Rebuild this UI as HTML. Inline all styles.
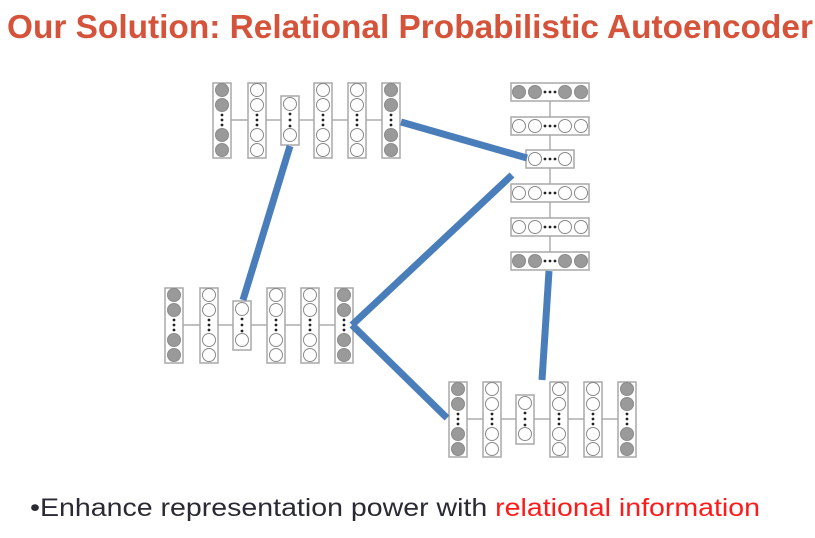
<!DOCTYPE html>
<html><head><meta charset="utf-8"><style>
html,body{margin:0;padding:0;background:#fff;width:815px;height:538px;overflow:hidden}
</style></head><body>
<svg id="s" width="815" height="538" xmlns="http://www.w3.org/2000/svg">
<text x="7" y="38" font-family="Liberation Sans, sans-serif" font-weight="bold" font-size="33" fill="#d5533a" textLength="806" lengthAdjust="spacingAndGlyphs">Our Solution: Relational Probabilistic Autoencoder</text>
<text x="30" y="516" font-family="Liberation Sans, sans-serif" font-size="25" fill="#2a2a35" textLength="730" lengthAdjust="spacingAndGlyphs">•Enhance representation power with <tspan fill="#ff1a1a">relational information</tspan></text>
<g id="g"></g>
</svg>
<script>
const g=document.getElementById('g');const NS='http://www.w3.org/2000/svg';
function el(t,a){const e=document.createElementNS(NS,t);for(const k in a)e.setAttribute(k,a[k]);g.appendChild(e);return e;}
const gray='#9a9a9a';
function vcol(x,top,short,filled){
  if(!short){el('rect',{x:x-9,y:top,width:18,height:75,fill:'#fff',stroke:'#a8a8a8','stroke-width':1.5});
    [7,22,52,67].forEach(d=>el('circle',{cx:x,cy:top+d,r:6.5,fill:filled?gray:'#fff',stroke:'#8a8a8a','stroke-width':1}));
    [32,37,42].forEach(d=>el('circle',{cx:x,cy:top+d,r:1.4,fill:'#222'}));
  } else {el('rect',{x:x-9,y:top+13,width:18,height:49,fill:'#fff',stroke:'#a8a8a8','stroke-width':1.5});
    [21,52].forEach(d=>el('circle',{cx:x,cy:top+d,r:6.5,fill:'#fff',stroke:'#8a8a8a','stroke-width':1}));
    [31,37,43].forEach(d=>el('circle',{cx:x,cy:top+d,r:1.4,fill:'#222'}));}
}
function row(xs,top){
  for(let i=0;i<5;i++)el('line',{x1:xs[i]+9,y1:top+37,x2:xs[i+1]-9,y2:top+37,stroke:'#999','stroke-width':1.2});
  xs.forEach((x,i)=>vcol(x,top,i==2,i==0||i==5));
}
function hrow(cy,short,filled){
  const cx=550;
  if(!short){el('rect',{x:cx-39,y:cy-9,width:78,height:18,fill:'#fff',stroke:'#a8a8a8','stroke-width':1.5});
    [-31,-15,15,31].forEach(d=>el('circle',{cx:cx+d,cy:cy,r:6.5,fill:filled?gray:'#fff',stroke:'#8a8a8a','stroke-width':1}));
    [-5,0,5].forEach(d=>el('circle',{cx:cx+d,cy:cy,r:1.4,fill:'#222'}));
  } else {el('rect',{x:cx-24,y:cy-9,width:48,height:18,fill:'#fff',stroke:'#a8a8a8','stroke-width':1.5});
    [-15,15].forEach(d=>el('circle',{cx:cx+d,cy:cy,r:6.5,fill:'#fff',stroke:'#8a8a8a','stroke-width':1}));
    [-5,0,5].forEach(d=>el('circle',{cx:cx+d,cy:cy,r:1.4,fill:'#222'}));}
}
const ys=[92,126,159,193,227,261];
for(let i=0;i<5;i++)el('line',{x1:550,y1:ys[i]+9,x2:550,y2:ys[i+1]-9,stroke:'#999','stroke-width':1.2});
ys.forEach((y,i)=>hrow(y,i==2,i==0||i==5));
row([222,257,290,323,357,391],83);
row([174,209,242,276,310,344],288);
row([458,492,525,559,593,627],382);
const B='#4a7ebb';
[[401,122,527,158],[290,146,243,300],[352,325,512,175],[352,325,447,418],[549,271,542,380]].forEach(l=>el('line',{x1:l[0],y1:l[1],x2:l[2],y2:l[3],stroke:B,'stroke-width':7}));
</script>
</body></html>
